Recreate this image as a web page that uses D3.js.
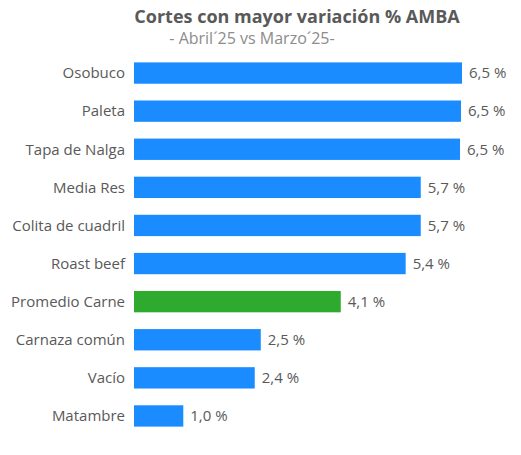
<!DOCTYPE html>
<html>
<head>
<meta charset="utf-8">
<script src="https://cdn.jsdelivr.net/npm/d3@7"></script>
<style>
  body { margin: 0; background: #fff; }
  svg { display: block; font-family: "Open Sans", "Noto Sans", sans-serif; }
</style>
</head>
<body>
<svg id="chart"></svg>
<script>
// Datos
const cortes = ['Osobuco', 'Paleta', 'Tapa de Nalga', 'Media Res', 'Colita de cuadril',
  'Roast beef', 'Promedio Carne', 'Carnaza común', 'Vacío', 'Matambre'];
const variacion = [6.52, 6.50, 6.48, 5.70, 5.70, 5.40, 4.11, 2.52, 2.40, 0.98];
const destacado = ['Promedio Carne'];

const width = 521;
const height = 455;

const svg = d3.select('#chart')
  .attr('width', width)
  .attr('height', height);

// Títulos
svg.append('text')
  .attr('x', 297)
  .attr('y', 23)
  .attr('text-anchor', 'middle')
  .attr('font-size', 18)
  .attr('font-weight', 'bold')
  .attr('fill', '#595959')
  .text('Cortes con mayor variación % AMBA');

svg.append('text')
  .attr('x', 252)
  .attr('y', 44)
  .attr('text-anchor', 'middle')
  .attr('font-size', 16)
  .attr('fill', '#8c8c8c')
  .text('- Abril´25 vs Marzo´25-');

// Escalas
const x = d3.scaleLinear()
  .domain([0, 6.5])
  .range([134, 461]);

const y = d3.scaleBand()
  .domain(cortes)
  .range([54, 435])
  .paddingInner(0.44)
  .paddingOuter(0.22);

// Barras
svg.selectAll('rect.bar')
  .data(cortes)
  .join('rect')
  .attr('class', 'bar')
  .attr('x', x(0))
  .attr('y', d => y(d))
  .attr('width', (d, i) => x(variacion[i]) - x(0))
  .attr('height', y.bandwidth())
  .attr('fill', d => destacado.includes(d) ? '#2eab2e' : '#1a8cff');

// Etiquetas de categoría
svg.selectAll('text.cat')
  .data(cortes)
  .join('text')
  .attr('class', 'cat')
  .attr('x', 125)
  .attr('y', d => y(d) + y.bandwidth() / 2)
  .attr('dy', '0.35em')
  .attr('text-anchor', 'end')
  .attr('font-size', 15)
  .attr('fill', '#595959')
  .text(d => d);

// Etiquetas de valor
const fmt = v => d3.format('.1f')(v).replace('.', ',') + ' %';
svg.selectAll('text.val')
  .data(cortes)
  .join('text')
  .attr('class', 'val')
  .attr('x', (d, i) => x(variacion[i]) + 7)
  .attr('y', d => y(d) + y.bandwidth() / 2)
  .attr('dy', '0.35em')
  .attr('font-size', 15)
  .attr('fill', '#595959')
  .text((d, i) => fmt(variacion[i]));
</script>
</body>
</html>
